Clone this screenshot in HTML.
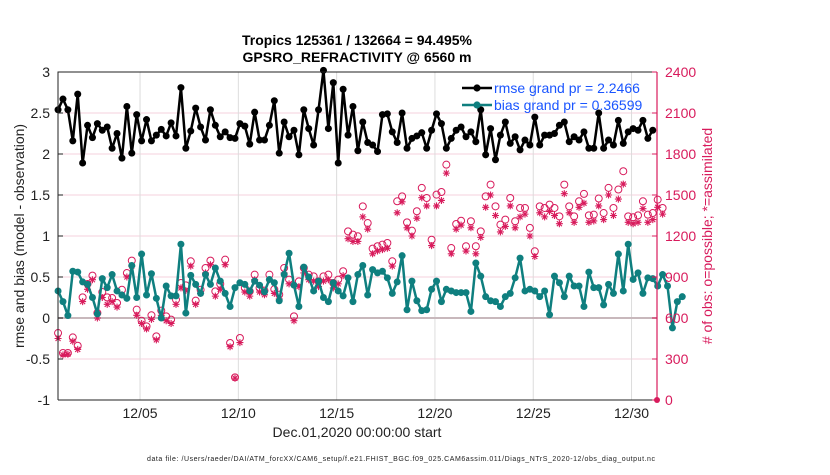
<!DOCTYPE html>
<html><head><meta charset="utf-8"><style>
body{margin:0;background:#fff;width:830px;height:470px;overflow:hidden;font-family:"Liberation Sans",sans-serif}
svg text{font-family:"Liberation Sans",sans-serif}
</style></head><body>
<svg id="chart" width="830" height="470">
<g id="grid"></g><g id="marks"></g><g id="axes"></g>
</svg>
<script>
const dateTicks=[4,9,14,19,24,29];
const dateLabels=["12/05","12/10","12/15","12/20","12/25","12/30"];
const leftTicks=[-1,-0.5,0,0.5,1,1.5,2,2.5,3];
const leftTickLabels=["-1","-0.5","0","0.5","1","1.5","2","2.5","3"];
const rightTicks=[0,300,600,900,1200,1500,1800,2100,2400];
const rmse=[2.54,2.67,2.54,2.16,2.73,1.89,2.35,2.20,2.37,2.29,2.33,2.07,2.25,1.95,2.58,2.01,2.48,2.16,2.42,2.16,2.23,2.30,2.22,2.38,2.22,2.81,2.07,2.28,2.56,2.33,2.17,2.54,2.35,2.21,2.27,2.20,2.19,2.37,2.34,2.12,2.51,2.17,2.17,
2.35,2.65,2.01,2.39,2.21,2.29,1.99,2.54,2.31,2.11,2.54,3.02,2.31,2.87,1.89,2.79,2.23,2.58,2.04,2.39,2.14,2.11,2.03,2.48,2.49,2.27,2.14,2.50,2.07,2.19,2.22,2.26,2.07,2.29,2.49,2.37,
2.07,2.19,2.29,2.33,2.21,2.27,2.15,2.54,1.99,2.31,1.93,2.23,2.39,2.13,2.21,2.05,2.17,2.11,2.45,2.11,2.23,2.23,2.25,2.35,2.39,2.15,2.21,2.17,2.27,2.07,2.07,2.50,2.07,2.17,2.11,2.41,2.13,2.27,2.31,2.29,2.41,2.19,2.29];
const bias=[0.33,0.20,0.03,0.57,0.56,0.44,0.41,0.25,0.05,0.48,0.37,0.53,0.33,0.28,0.24,0.64,0.25,0.78,0.28,0.54,0.24,0.00,0.39,0.27,0.27,0.90,0.06,0.52,0.41,0.30,0.53,0.41,0.61,0.45,0.30,0.14,0.37,0.43,0.41,0.33,0.45,0.40,0.32,
0.47,0.43,0.21,0.53,0.79,0.40,0.14,0.62,0.50,0.33,0.45,0.25,0.20,0.43,0.33,0.27,0.49,0.20,0.53,0.64,0.28,0.59,0.55,0.57,0.49,0.30,0.44,0.76,0.10,0.45,0.21,0.09,0.10,0.35,0.45,0.20,0.35,0.33,0.31,0.31,0.31,0.08,0.67,0.51,
0.26,0.21,0.20,0.14,0.26,0.30,0.49,0.73,0.33,0.35,0.33,0.26,0.33,0.04,0.51,0.43,0.26,0.51,0.39,0.39,0.14,0.56,0.37,0.37,0.16,0.41,0.30,0.78,0.33,0.90,0.47,0.55,0.30,0.49,0.48,0.39,0.53,0.39,-0.12,0.20,0.26];
const possible=[490,344,344,458,397,751,849,910,637,790,751,746,710,807,929,1020,661,580,539,620,466,654,612,588,734,856,839,1015,727,807,966,1020,795,849,1027,417,166,454,820,795,917,
820,800,917,810,771,966,881,612,868,966,917,905,868,905,917,856,881,942,1234,1210,1198,1417,1295,1108,1125,1137,1149,1015,1454,1490,1300,1239,1381,1552,1478,1173,1503,1522,1722,1112,1288,1312,1125,
1308,1125,1234,1490,1576,1417,1283,1320,1478,1308,1405,1405,1259,1088,1417,1405,1430,1405,1344,1576,1417,1344,1454,1508,1351,1356,1474,1368,1552,1405,1540,1674,1344,1337,1351,1454,1356,1368,1466,1405];
const assimilated=[450,330,335,430,370,720,810,880,600,750,700,720,680,770,900,980,620,560,520,590,440,620,580,560,700,820,800,980,700,780,930,990,760,810,990,390,160,420,790,760,880,
790,770,880,780,740,930,850,580,830,930,880,870,830,870,880,820,850,910,1180,1160,1160,1340,1250,1070,1090,1100,1110,980,1370,1450,1260,1200,1330,1480,1420,1130,1420,1460,1660,1070,1250,1280,1090,
1260,1070,1190,1410,1500,1350,1230,1270,1420,1260,1340,1360,1200,1050,1370,1340,1380,1350,1290,1510,1370,1300,1410,1440,1300,1310,1420,1320,1500,1350,1470,1580,1300,1290,1300,1400,1300,1320,1410,1360];
const NS="http://www.w3.org/2000/svg";
const L=58,R=657,T=72,B=400;
const x=d=>61.4+d*19.66;
const yL=v=>B-(v+1)*(B-T)/4;
const yR=v=>B-v*(B-T)/2400;
const tOf=i=>-0.17+i*0.25;
function mk(p,tag,a){const e=document.createElementNS(NS,tag);for(const k in a)e.setAttribute(k,a[k]);p.appendChild(e);return e;}
const grid=document.getElementById('grid'),marks=document.getElementById('marks'),axes=document.getElementById('axes');
mk(grid,'rect',{x:L,y:T,width:R-L,height:B-T,fill:'#fff'});
rightTicks.forEach(v=>{const g=mk(grid,'line',{x1:L,x2:R,y1:yR(v),y2:yR(v),stroke:'#f5d0dc','stroke-width':1});

});
dateTicks.forEach(d=>{const g=mk(grid,'line',{x1:x(d),x2:x(d),y1:T,y2:B,stroke:'#dcdcdc','stroke-width':1});

});
const zl=mk(grid,'line',{x1:L,x2:R,y1:yL(0),y2:yL(0),stroke:'#c8b8bc','stroke-width':2});


possible.forEach((v,i)=>{const c=mk(marks,'circle',{cx:x(tOf(i)),cy:yR(v),r:3.5,fill:'none',stroke:'#d81b5c','stroke-width':1});

});
assimilated.forEach((v,i)=>{const cx=x(tOf(i)),cy=yR(v),s=3.5;
const p=mk(marks,'path',{d:`M${cx-s},${cy}H${cx+s}M${cx},${cy-s}V${cy+s}M${cx-2.5},${cy-2.5}L${cx+2.5},${cy+2.5}M${cx-2.5},${cy+2.5}L${cx+2.5},${cy-2.5}`,stroke:'#d81b5c','stroke-width':1.1,fill:'none'});

});
function series(arr,col,name){
 const pts=arr.map((v,i)=>x(tOf(i))+','+yL(v)).join(' ');
 const pl=mk(marks,'polyline',{points:pts,fill:'none',stroke:col,'stroke-width':2.5,'stroke-linejoin':'round'});
 
 
 arr.forEach((v,i)=>{const c=mk(marks,'circle',{cx:x(tOf(i)),cy:yL(v),r:3.5,fill:col});
 
 });
}
series(rmse,'#000','rmse');
series(bias,'#0f7f7f','bias');
const ed=mk(marks,'circle',{cx:R,cy:B,r:3,fill:'#d81b5c'});


const bx=mk(axes,'path',{d:`M${L},${B}V${T}H${R}`,fill:'none',stroke:'#222','stroke-width':1});


const xb=mk(axes,'line',{x1:L,x2:R,y1:B,y2:B,stroke:'#222'});


const ra=mk(axes,'line',{x1:R,x2:R,y1:T,y2:B,stroke:'#d81b5c','stroke-width':1.2});


leftTicks.forEach((v,i)=>{const t=mk(axes,'text',{x:L-8,y:yL(v)+5,'text-anchor':'end','font-size':14,fill:'#222'});t.textContent=leftTickLabels[i];


mk(axes,'line',{x1:L,x2:L+5,y1:yL(v),y2:yL(v),stroke:'#222'});});
rightTicks.forEach(v=>{const t=mk(axes,'text',{x:R+8,y:yR(v)+5,'font-size':14,fill:'#d81b5c'});t.textContent=v;


mk(axes,'line',{x1:R-5,x2:R,y1:yR(v),y2:yR(v),stroke:'#d81b5c'});});
dateTicks.forEach((d,i)=>{const t=mk(axes,'text',{x:x(d),y:418,'text-anchor':'middle','font-size':14,fill:'#222'});t.textContent=dateLabels[i];

});
</script>
<svg width="830" height="470" style="position:absolute;left:0;top:0">
<text x="357" y="45" text-anchor="middle" font-size="14" font-weight="bold" fill="#000">Tropics 125361 / 132664 = 94.495%</text>
<text x="357" y="62" text-anchor="middle" font-size="14" font-weight="bold" fill="#000">GPSRO_REFRACTIVITY @ 6560 m</text>
<g>
<line x1="462" y1="88" x2="492" y2="88" stroke="#000" stroke-width="2.5"/><circle cx="477" cy="88" r="3.6" fill="#000"/>
<text x="494" y="93" font-size="14" fill="#1a55ff">rmse grand pr = 2.2466</text>
<line x1="462" y1="105" x2="492" y2="105" stroke="#0f7f7f" stroke-width="2.5"/><circle cx="477" cy="105" r="3.6" fill="#0f7f7f"/>
<text x="494" y="110" font-size="14" fill="#1a55ff">bias grand pr = 0.36599</text>
</g>
<text transform="translate(24,236) rotate(-90)" text-anchor="middle" font-size="14" fill="#222">rmse and bias (model - observation)</text>
<text transform="translate(712,236) rotate(-90)" text-anchor="middle" font-size="14" fill="#d81b5c"># of obs: o=possible; *=assimilated</text>
<text x="357" y="437" text-anchor="middle" font-size="14" fill="#222">Dec.01,2020 00:00:00 start</text>
<text x="401" y="461" text-anchor="middle" font-size="7" fill="#222" textLength="508">data file: /Users/raeder/DAI/ATM_forcXX/CAM6_setup/f.e21.FHIST_BGC.f09_025.CAM6assim.011/Diags_NTrS_2020-12/obs_diag_output.nc</text>
</svg>
</body></html>
